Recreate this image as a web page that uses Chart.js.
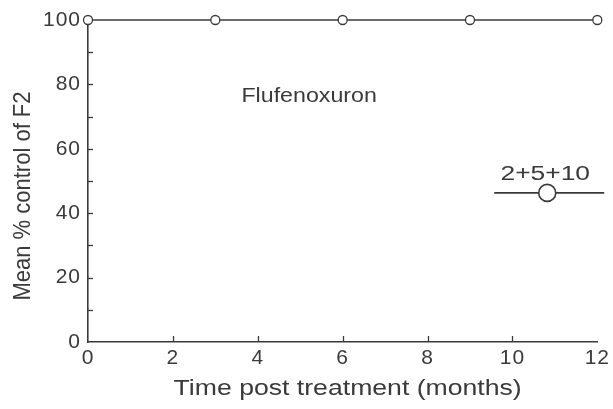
<!DOCTYPE html>
<html><head><meta charset="utf-8">
<script src="https://cdn.jsdelivr.net/npm/chart.js@4/dist/chart.umd.min.js"></script>
<style>html,body{margin:0;padding:0;background:#fff}#wrap{width:613px;height:409px}</style>
</head><body><div id="wrap"><canvas id="c" width="613" height="409"></canvas></div>
<script>
const months = [0, 3, 6, 9, 12];
const control = [100, 100, 100, 100, 100];
const seriesName = "2+5+10";
const annotationText = "Flufenoxuron";
const xTitle = "Time post treatment (months)";
const yTitle = "Mean % control of F2";

const ink = "#3a3a3a";
const font = "'Liberation Sans', Arial, sans-serif";

function wideText(ctx, text, x, y, sx, sy, rot) {
  ctx.save();
  ctx.translate(x, y);
  if (rot) ctx.rotate(rot);
  ctx.scale(sx, sy);
  ctx.fillText(text, 0, 0);
  ctx.restore();
}

const decor = {
  id: 'decor',
  beforeDraw(chart) { chart.ctx.letterSpacing = '1px'; },
  afterDraw(chart) {
    const ctx = chart.ctx, xs = chart.scales.x, ys = chart.scales.y;
    ctx.save();
    ctx.letterSpacing = '0px';
    ctx.strokeStyle = ink; ctx.lineWidth = 1.3;
    // inward ticks on y (every 10)
    for (let v = 10; v < 100; v += 10) {
      const py = Math.round(ys.getPixelForValue(v)) + 0.5;
      ctx.beginPath(); ctx.moveTo(xs.left, py); ctx.lineTo(xs.left + 5, py); ctx.stroke();
    }
    // inward ticks on x (every 2)
    for (let v = 2; v < 12; v += 2) {
      const px = Math.round(xs.getPixelForValue(v)) + 0.5;
      ctx.beginPath(); ctx.moveTo(px, ys.bottom); ctx.lineTo(px, ys.bottom - 6); ctx.stroke();
    }
    ctx.fillStyle = ink;
    ctx.textAlign = 'center'; ctx.textBaseline = 'middle';
    // axis titles
    ctx.font = "22px " + font;
    wideText(ctx, xTitle, (xs.left + xs.right) / 2 + 5, 389, 1.21, 1);
    wideText(ctx, yTitle, 23, (ys.top + ys.bottom) / 2 + 15, 1, 1.12, -Math.PI / 2);
    // annotation
    ctx.font = "20px " + font;
    wideText(ctx, annotationText, xs.getPixelForValue(5.21), ys.getPixelForValue(76.1), 1.16, 1);
    // legend
    const lx = xs.getPixelForValue(10.82), ly = ys.getPixelForValue(46.3);
    wideText(ctx, seriesName, lx - 2, ly - 18, 1.32, 1);
    ctx.lineWidth = 1.6;
    ctx.beginPath(); ctx.moveTo(lx - 53, ly); ctx.lineTo(lx + 57, ly); ctx.stroke();
    ctx.beginPath(); ctx.arc(lx, ly, 8.5, 0, Math.PI * 2); ctx.fillStyle = '#fff'; ctx.fill(); ctx.stroke();
    ctx.restore();
  }
};

new Chart(document.getElementById('c'), {
  type: 'line',
  data: {
    datasets: [{
      label: seriesName,
      data: months.map((m, i) => ({x: m, y: control[i]})),
      borderColor: ink, borderWidth: 1.6,
      pointRadius: 4.5, pointBorderWidth: 1.3,
      pointBackgroundColor: '#fff', pointBorderColor: ink,
      clip: false, tension: 0
    }]
  },
  options: {
    responsive: false, animation: false,
    layout: { padding: { top: 20, right: 15, left: 0, bottom: 0 } },
    plugins: { legend: { display: false }, tooltip: { enabled: false } },
    scales: {
      x: {
        type: 'linear', min: 0, max: 12,
        afterFit: s => { s.height = 67; },
        grid: { display: false, drawTicks: false },
        border: { display: true, color: ink, width: 1.6 },
        ticks: { stepSize: 2, color: ink, font: { family: font, size: 21 }, padding: 4, maxRotation: 0 },
        title: { display: false, text: xTitle }
      },
      y: {
        min: 0, max: 100,
        afterFit: s => { s.width = 88; },
        grid: { display: false, drawTicks: false },
        border: { display: true, color: ink, width: 1.6 },
        ticks: { stepSize: 20, color: ink, font: { family: font, size: 21 }, padding: 7 },
        title: { display: false, text: yTitle }
      }
    }
  },
  plugins: [decor]
});
</script></body></html>
